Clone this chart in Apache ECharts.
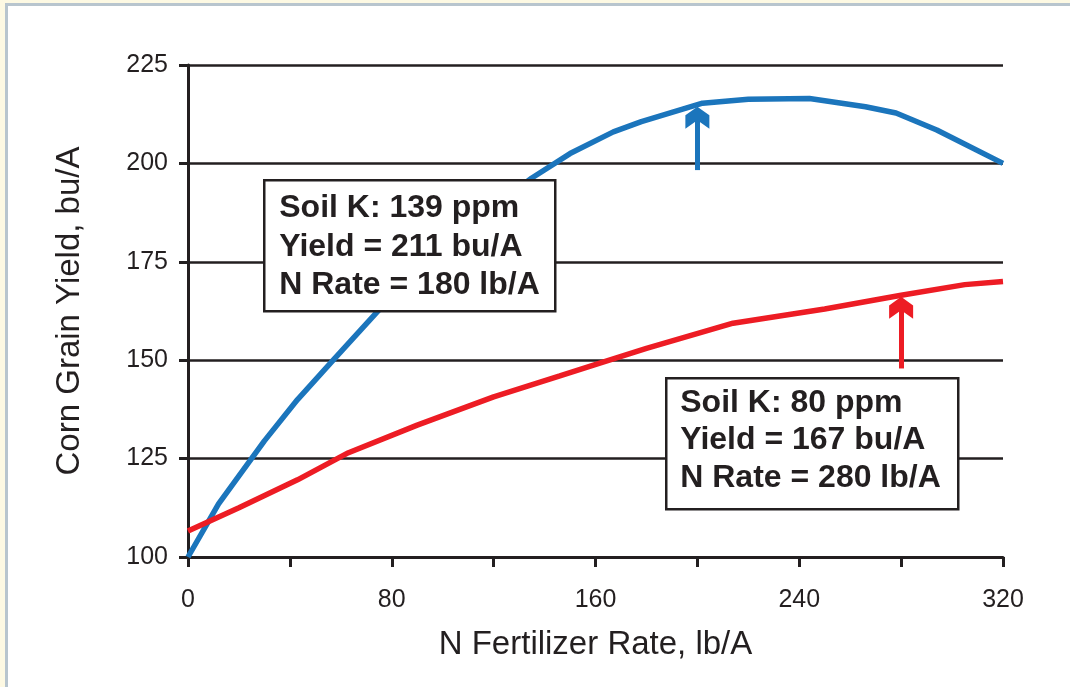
<!DOCTYPE html>
<html>
<head>
<meta charset="utf-8">
<script src="https://cdn.jsdelivr.net/npm/echarts@6/dist/echarts.min.js"></script>
<style>
  html, body { margin: 0; padding: 0; background: #fdf9e3; overflow: hidden; }
  #frame { position: absolute; left: 5px; top: 3px; width: 1100px; height: 720px;
           background: #ffffff; border-left: 3px solid #b8c5ce; border-top: 3px solid #b8c5ce; }
  #chart { position: absolute; left: 0; top: 0; width: 1070px; height: 687px; }
</style>
</head>
<body>
<div id="frame"></div>
<div id="chart"></div>
<script>
// ---- Data ----
const xTicks = [0, 80, 160, 240, 320];
const yTicks = [100, 125, 150, 175, 200, 225];

// Soil K 139 ppm (blue)
const highK_N     = [0, 12, 30, 43, 57, 75, 90, 105, 120, 135, 150, 167, 178, 202, 220, 244, 266, 278, 294, 320];
const highK_Yield = [100, 113.5, 129.5, 140, 150, 162.8, 172, 180.5, 189, 196.3, 202.5, 208, 210.6, 215.3, 216.3, 216.5, 214.4, 212.8, 208.5, 200];

// Soil K 80 ppm (red)
const lowK_N      = [0, 20, 43, 63, 90, 120, 146, 162, 180, 214, 250, 280, 305, 320];
const lowK_Yield  = [106.6, 112.5, 119.6, 126.5, 133.5, 140.7, 146, 149.3, 153, 159.4, 163, 166.5, 169.2, 170];

// Optimum arrows: [N rate, arrow start yield, arrow end yield]
const highK_arrow = [200, 198.3, 211.6];
const lowK_arrow  = [280, 147.9, 163.3];

const highK_label = ['Soil K: 139 ppm', 'Yield = 211 bu/A', 'N Rate = 180 lb/A'];
const lowK_label  = ['Soil K: 80 ppm', 'Yield = 167 bu/A', 'N Rate = 280 lb/A'];

const xName = 'N Fertilizer Rate, lb/A';
const yName = 'Corn Grain Yield, bu/A';

// ---- Chart ----
const BLUE = '#1b75bc', RED = '#ed1c24', INK = '#231f20';
const FONT = '"Liberation Sans", Arial, Helvetica, sans-serif';
const chevron = 'path://M10,0 L20,7 L20,18 L10,11 L0,18 L0,7 Z';

function zip(a, b) { return a.map((v, i) => [v, b[i]]); }
function arrowLine(arr) {
  return [[{ coord: [arr[0], arr[1]] }, { coord: [arr[0], arr[2]] }]];
}
function box(left, top, w, h, lines, tx, ty, lh) {
  return {
    type: 'group', left: left, top: top, z: 100,
    children: [
      { type: 'rect', z: 100, shape: { x: 0, y: 0, width: w, height: h },
        style: { fill: '#ffffff', stroke: INK, lineWidth: 2.5 } },
      { type: 'text', z: 101, x: tx, y: ty,
        style: { text: lines.join('\n'), font: 'bold 32px ' + FONT, fill: INK, lineHeight: lh } }
    ]
  };
}

const chart = echarts.init(document.getElementById('chart'), null, { renderer: 'canvas' });
chart.setOption({
  backgroundColor: 'transparent',
  animation: false,
  grid: { left: 188, right: 67, top: 65, bottom: 130 },
  xAxis: {
    type: 'value', min: 0, max: 320, interval: 40,
    name: xName, nameLocation: 'middle', nameGap: 71,
    nameTextStyle: { fontFamily: FONT, fontSize: 33, color: INK },
    axisLine: { show: true, lineStyle: { color: INK, width: 3 } },
    axisTick: { show: true, inside: false, length: 10, lineStyle: { color: INK, width: 3 } },
    axisLabel: {
      margin: 31, fontFamily: FONT, fontSize: 25, color: INK,
      formatter: v => (xTicks.indexOf(v) >= 0 ? String(v) : '')
    },
    splitLine: { show: false }
  },
  yAxis: {
    type: 'value', min: 100, max: 225, interval: 25,
    name: yName, nameLocation: 'middle', nameGap: 102,
    nameTextStyle: { fontFamily: FONT, fontSize: 33, color: INK },
    axisLine: { show: true, lineStyle: { color: INK, width: 3 } },
    axisTick: { show: true, inside: false, length: 9, lineStyle: { color: INK, width: 3 } },
    axisLabel: {
      margin: 20, fontFamily: FONT, fontSize: 25, color: INK,
      formatter: v => (yTicks.indexOf(v) >= 0 ? String(v) : '')
    },
    splitLine: { show: true, lineStyle: { color: INK, width: 2.5 } }
  },
  series: [
    {
      name: 'Soil K 139 ppm', type: 'line', data: zip(highK_N, highK_Yield),
      showSymbol: false, smooth: false, z: 3,
      lineStyle: { color: BLUE, width: 5.5 },
      markLine: {
        silent: true, animation: false, z: 3,
        symbol: ['none', chevron], symbolSize: [24, 22],
        label: { show: false },
        lineStyle: { color: BLUE, width: 5, type: 'solid' },
        itemStyle: { color: BLUE },
        data: arrowLine(highK_arrow)
      }
    },
    {
      name: 'Soil K 80 ppm', type: 'line', data: zip(lowK_N, lowK_Yield),
      showSymbol: false, smooth: false, z: 3,
      lineStyle: { color: RED, width: 5.5 },
      markLine: {
        silent: true, animation: false, z: 3,
        symbol: ['none', chevron], symbolSize: [24, 22],
        label: { show: false },
        lineStyle: { color: RED, width: 5, type: 'solid' },
        itemStyle: { color: RED },
        data: arrowLine(lowK_arrow)
      }
    }
  ],
  graphic: [
    box(263, 179, 291, 131, highK_label, 15, 9, 38.3),
    box(665, 377, 292, 131, lowK_label, 14, 6, 37.5)
  ]
});
</script>
</body>
</html>
